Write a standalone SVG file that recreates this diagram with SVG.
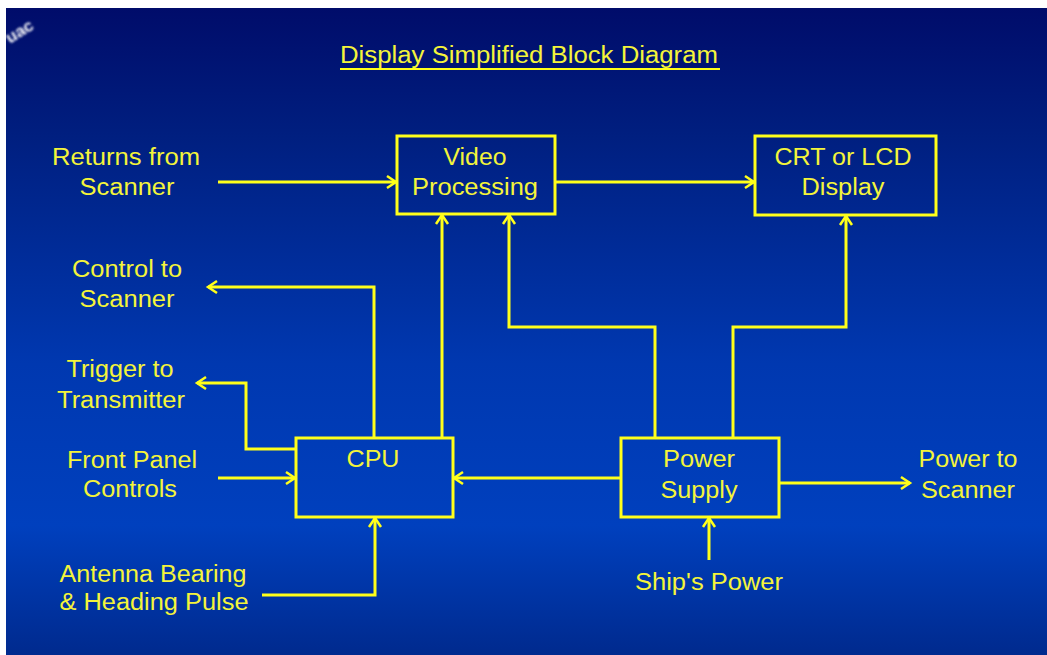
<svg xmlns="http://www.w3.org/2000/svg" width="1047" height="655" viewBox="0 0 1047 655">
<defs>
<linearGradient id="bg" x1="0" y1="0" x2="0" y2="1">
<stop offset="0" stop-color="#000c6a"/>
<stop offset="0.2" stop-color="#001f80"/>
<stop offset="0.55" stop-color="#0038b0"/>
<stop offset="0.8" stop-color="#0040be"/>
<stop offset="1" stop-color="#002a8e"/>
</linearGradient>
<marker id="arr" markerUnits="userSpaceOnUse" markerWidth="14" markerHeight="16" refX="11" refY="7" orient="auto" overflow="visible">
<path d="M2,1 L11,7 L2,13" fill="none" stroke="#ffff1a" stroke-width="2.5"/>
</marker>
<filter id="soft"><feGaussianBlur stdDeviation="0.9"/></filter>
</defs>
<style>
.box{fill:none;stroke:#ffff1a;stroke-width:3}
.t{font-family:"Liberation Sans",Arial,sans-serif;font-size:23px;fill:#f4f43a;text-anchor:middle}
.c{fill:none;stroke:#ffff1a;stroke-width:3;marker-end:url(#arr)}
</style>
<rect x="0" y="0" width="1047" height="655" fill="#ffffff"/>
<rect x="6" y="8" width="1041" height="647" fill="url(#bg)"/>
<text x="10" y="44" transform="rotate(-32 10 44)" font-family="Liberation Sans,Arial,sans-serif" font-size="17" font-weight="bold" fill="#ffffff" filter="url(#soft)">uac</text>
<g id="title">
<text class="t" x="529" y="63" textLength="378" lengthAdjust="spacingAndGlyphs">Display Simplified Block Diagram</text>
<line x1="340" y1="69" x2="720" y2="69" stroke="#ffff1a" stroke-width="2"/>
</g>
<g id="connectors">
<path class="c" d="M218,182 H396"/>
<path class="c" d="M555,182 H754"/>
<path class="c" d="M374,438 V287 H208"/>
<path class="c" d="M296,449 H246 V383 H197"/>
<path class="c" d="M442,438 V215"/>
<path class="c" d="M218,478 H295"/>
<path class="c" d="M621,478 H454"/>
<path class="c" d="M655,438 V327 H509 V215"/>
<path class="c" d="M733,438 V327 H846 V216"/>
<path class="c" d="M779,483 H910"/>
<path class="c" d="M709,560 V518"/>
<path class="c" d="M262,595 H375 V518"/>
</g>
<g id="video-processing">
<rect class="box" x="397" y="136" width="158" height="78"/>
<text class="t" x="475" y="165" textLength="63" lengthAdjust="spacingAndGlyphs">Video</text>
<text class="t" x="475" y="195" textLength="126" lengthAdjust="spacingAndGlyphs">Processing</text>
</g>
<g id="crt-lcd-display">
<rect class="box" x="755" y="136" width="181" height="79"/>
<text class="t" x="843" y="165" textLength="137" lengthAdjust="spacingAndGlyphs">CRT or LCD</text>
<text class="t" x="843" y="195" textLength="83" lengthAdjust="spacingAndGlyphs">Display</text>
</g>
<g id="cpu">
<rect class="box" x="296" y="438" width="157" height="79"/>
<text class="t" x="373" y="467" textLength="53" lengthAdjust="spacingAndGlyphs">CPU</text>
</g>
<g id="power-supply">
<rect class="box" x="621" y="438" width="158" height="79"/>
<text class="t" x="699" y="467" textLength="72" lengthAdjust="spacingAndGlyphs">Power</text>
<text class="t" x="699" y="498" textLength="77" lengthAdjust="spacingAndGlyphs">Supply</text>
</g>
<g id="returns-from-scanner">
<text class="t" x="126" y="165" textLength="148" lengthAdjust="spacingAndGlyphs">Returns from</text>
<text class="t" x="127" y="195" textLength="95" lengthAdjust="spacingAndGlyphs">Scanner</text>
</g>
<g id="control-to-scanner">
<text class="t" x="127" y="277" textLength="110" lengthAdjust="spacingAndGlyphs">Control to</text>
<text class="t" x="127" y="307" textLength="95" lengthAdjust="spacingAndGlyphs">Scanner</text>
</g>
<g id="trigger-to-transmitter">
<text class="t" x="120" y="377" textLength="107" lengthAdjust="spacingAndGlyphs">Trigger to</text>
<text class="t" x="121" y="408" textLength="128" lengthAdjust="spacingAndGlyphs">Transmitter</text>
</g>
<g id="front-panel-controls">
<text class="t" x="132" y="468" textLength="130" lengthAdjust="spacingAndGlyphs">Front Panel</text>
<text class="t" x="130" y="497" textLength="94" lengthAdjust="spacingAndGlyphs">Controls</text>
</g>
<g id="antenna-bearing">
<text class="t" x="153" y="582" textLength="187" lengthAdjust="spacingAndGlyphs">Antenna Bearing</text>
<text class="t" x="154" y="610" textLength="189" lengthAdjust="spacingAndGlyphs">&amp; Heading Pulse</text>
</g>
<g id="power-to-scanner">
<text class="t" x="968" y="467" textLength="99" lengthAdjust="spacingAndGlyphs">Power to</text>
<text class="t" x="968" y="498" textLength="94" lengthAdjust="spacingAndGlyphs">Scanner</text>
</g>
<g id="ships-power">
<text class="t" x="709" y="590" textLength="148" lengthAdjust="spacingAndGlyphs">Ship's Power</text>
</g>
</svg>
